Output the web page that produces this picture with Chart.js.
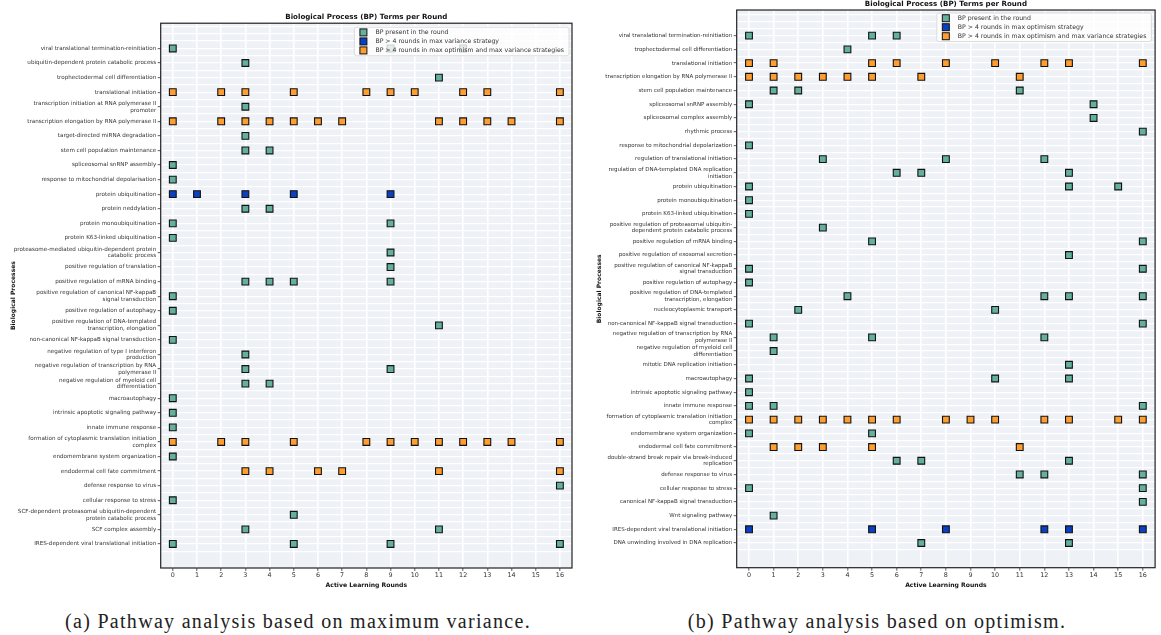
<!DOCTYPE html>
<html>
<head>
<meta charset="utf-8">
<script src="https://cdn.jsdelivr.net/npm/chart.js@4.4.0/dist/chart.umd.min.js"></script>
<style>
  html, body { margin: 0; padding: 0; background: #fff; width: 1161px; height: 635px; overflow: hidden; position: relative; }
  canvas { position: absolute; top: 0; }
  #chartA { left: 0; }
  #chartB { left: 580px; }
  .cap { position: absolute; top: 610px; font-family: 'Liberation Serif', serif; font-size: 20px; letter-spacing: 1.3px; color: #222; white-space: nowrap; transform: translateX(-50%); }
</style>
</head>
<body>
<canvas id="chartA" width="580" height="592"></canvas>
<canvas id="chartB" width="581" height="592"></canvas>
<div class="cap" style="left:298px">(a) Pathway analysis based on maximum variance.</div>
<div class="cap" style="left:877px">(b) Pathway analysis based on optimism.</div>
<script>
// ---- data ----
const rounds = [0, 1, 2, 3, 4, 5, 6, 7, 8, 9, 10, 11, 12, 13, 14, 15, 16];

// (a) max variance
const catsA = [
  'viral translational termination-reinitiation',
  'ubiquitin-dependent protein catabolic process',
  'trophectodermal cell differentiation',
  'translational initiation',
  'transcription initiation at RNA polymerase II\npromoter',
  'transcription elongation by RNA polymerase II',
  'target-directed miRNA degradation',
  'stem cell population maintenance',
  'spliceosomal snRNP assembly',
  'response to mitochondrial depolarisation',
  'protein ubiquitination',
  'protein neddylation',
  'protein monoubiquitination',
  'protein K63-linked ubiquitination',
  'proteasome-mediated ubiquitin-dependent protein\ncatabolic process',
  'positive regulation of translation',
  'positive regulation of mRNA binding',
  'positive regulation of canonical NF-kappaB\nsignal transduction',
  'positive regulation of autophagy',
  'positive regulation of DNA-templated\ntranscription, elongation',
  'non-canonical NF-kappaB signal transduction',
  'negative regulation of type I interferon\nproduction',
  'negative regulation of transcription by RNA\npolymerase II',
  'negative regulation of myeloid cell\ndifferentiation',
  'macroautophagy',
  'intrinsic apoptotic signaling pathway',
  'innate immune response',
  'formation of cytoplasmic translation initiation\ncomplex',
  'endomembrane system organization',
  'endodermal cell fate commitment',
  'defense response to virus',
  'cellular response to stress',
  'SCF-dependent proteasomal ubiquitin-dependent\nprotein catabolic process',
  'SCF complex assembly',
  'IRES-dependent viral translational initiation'
];
const roundsA = [
  [0, 9, 12], [3], [11], [0, 2, 3, 5, 8, 9, 10, 12, 13, 16], [3],
  [0, 2, 3, 4, 5, 6, 7, 11, 12, 13, 14, 16], [3], [3, 4], [0], [0],
  [0, 1, 3, 5, 9], [3, 4], [0, 9], [0], [9],
  [9], [3, 4, 5, 9], [0], [0], [11],
  [0], [3], [3, 9], [3, 4], [0],
  [0], [0], [0, 2, 3, 5, 8, 9, 10, 11, 12, 13, 14, 16], [0], [3, 4, 6, 7, 11, 16],
  [16], [0], [5], [3, 11], [0, 5, 9, 16]
];
// 0 = present, 1 = >4 rounds in this strategy, 2 = >4 rounds in both
const kindA = [0,0,0,2,0, 2,0,0,0,0, 1,0,0,0,0, 0,0,0,0,0, 0,0,0,0,0, 0,0,2,0,2, 0,0,0,0,0];
const legendA = ['BP present in the round', 'BP > 4 rounds in max variance strategy', 'BP > 4 rounds in max optimism and max variance strategies'];

// (b) max optimism
const catsB = [
  'viral translational termination-reinitiation',
  'trophectodermal cell differentiation',
  'translational initiation',
  'transcription elongation by RNA polymerase II',
  'stem cell population maintenance',
  'spliceosomal snRNP assembly',
  'spliceosomal complex assembly',
  'rhythmic process',
  'response to mitochondrial depolarization',
  'regulation of translational initiation',
  'regulation of DNA-templated DNA replication\ninitiation',
  'protein ubiquitination',
  'protein monoubiquitination',
  'protein K63-linked ubiquitination',
  'positive regulation of proteasomal ubiquitin-\ndependent protein catabolic process',
  'positive regulation of mRNA binding',
  'positive regulation of exosomal secretion',
  'positive regulation of canonical NF-kappaB\nsignal transduction',
  'positive regulation of autophagy',
  'positive regulation of DNA-templated\ntranscription, elongation',
  'nucleocytoplasmic transport',
  'non-canonical NF-kappaB signal transduction',
  'negative regulation of transcription by RNA\npolymerase II',
  'negative regulation of myeloid cell\ndifferentiation',
  'mitotic DNA replication initiation',
  'macroautophagy',
  'intrinsic apoptotic signaling pathway',
  'innate immune response',
  'formation of cytoplasmic translation initiation\ncomplex',
  'endomembrane system organization',
  'endodermal cell fate commitment',
  'double-strand break repair via break-induced\nreplication',
  'defense response to virus',
  'cellular response to stress',
  'canonical NF-kappaB signal transduction',
  'Wnt signaling pathway',
  'IRES-dependent viral translational initiation',
  'DNA unwinding involved in DNA replication'
];
const roundsB = [
  [0, 5, 6], [4], [0, 1, 5, 6, 8, 10, 12, 13, 16], [0, 1, 2, 3, 4, 5, 7, 11], [1, 2, 11],
  [0, 14], [14], [16], [0], [3, 8, 12],
  [6, 7, 13], [0, 13, 15], [0], [0], [3],
  [5, 16], [13], [0, 16], [0], [4, 12, 13, 16],
  [2, 10], [0, 16], [1, 5, 12], [1], [13],
  [0, 10, 13], [0], [0, 1, 16], [0, 1, 2, 3, 4, 5, 6, 8, 9, 10, 12, 13, 15, 16], [0, 5],
  [1, 2, 3, 5, 11], [6, 7, 13], [11, 12, 16], [0, 16], [16],
  [1], [0, 5, 8, 12, 13, 16], [7, 13]
];
const kindB = [0,0,2,2,0, 0,0,0,0,0, 0,0,0,0,0, 0,0,0,0,0, 0,0,0,0,0, 0,0,0,2,0, 2,0,0,0,0, 0,1,0];
const legendB = ['BP present in the round', 'BP > 4 rounds in max optimism strategy', 'BP > 4 rounds in max optimism and max variance strategies'];

const kindColors = ['#63b19d', '#0b40c4', '#ff9e30'];

Chart.defaults.font.family = "'DejaVu Sans', sans-serif";

// matplotlib-ish frame: panel background, four spines, legend box inside the axes
const frame = {
  id: 'frame',
  beforeDraw(chart) {
    const a = chart.chartArea, ctx = chart.ctx;
    ctx.save();
    ctx.fillStyle = '#eef1f6';
    ctx.fillRect(a.left, a.top, a.width, a.height);
    ctx.restore();
  },
  afterDatasetsDraw(chart, args, opts) {
    const a = chart.chartArea, ctx = chart.ctx;
    ctx.save();
    ctx.strokeStyle = '#222';
    ctx.lineWidth = 1.2;
    ctx.strokeRect(a.left, a.top, a.width, a.height);

    // legend
    ctx.font = "6.2px 'DejaVu Sans'";
    const tw = Math.max(...opts.labels.map(t => ctx.measureText(t).width));
    const w = 21 + tw + 5, h = 28.5;
    const x = a.right - opts.dx - w, y = a.top + opts.dy;
    ctx.beginPath();
    ctx.roundRect(x, y, w, h, 2);
    ctx.fillStyle = 'rgba(255,255,255,0.8)';
    ctx.fill();
    ctx.strokeStyle = '#d4d4d4';
    ctx.lineWidth = 0.8;
    ctx.stroke();
    opts.labels.forEach((t, i) => {
      const cy = y + 5.2 + i * 9;
      ctx.fillStyle = kindColors[i];
      ctx.fillRect(x + 5.5, cy - 3.5, 7, 7);
      ctx.strokeStyle = '#111';
      ctx.lineWidth = 1;
      ctx.strokeRect(x + 5.5, cy - 3.5, 7, 7);
      ctx.fillStyle = '#333';
      ctx.textBaseline = 'middle';
      ctx.fillText(t, x + 21, cy + 0.3);
    });
    ctx.restore();
  }
};

function makeSets(roundsList, kinds, labels) {
  return [0, 1, 2].map(k => {
    const pts = [];
    roundsList.forEach((rs, i) => {
      if (kinds[i] === k) rs.forEach(r => pts.push({ x: r, y: i }));
    });
    return {
      label: labels[k],
      data: pts,
      backgroundColor: kindColors[k],
      borderColor: '#111',
      borderWidth: 1.1,
      pointStyle: 'rect',
      pointRadius: 4.8
    };
  });
}

function isRow(v, n) { return Number.isInteger(v) && v >= 0 && v < n; }

function buildChart(id, cats, roundsList, kinds, labels, cfg) {
  const n = cats.length;
  const yTicks = [];
  for (let v = -1.5; v <= n - 0.5; v += 0.5) yTicks.push(v);
  return new Chart(document.getElementById(id), {
    type: 'scatter',
    data: { datasets: makeSets(roundsList, kinds, labels) },
    options: {
      responsive: false,
      animation: false,
      layout: { padding: { left: cfg.padLeft, right: cfg.padRight, top: 0, bottom: 0 } },
      plugins: {
        legend: { display: false },
        tooltip: { enabled: false },
        title: {
          display: true, fullSize: false, text: 'Biological Process (BP) Terms per Round', color: '#111',
          font: { size: 7.1, weight: 'bold' }, padding: { top: cfg.titleTop, bottom: cfg.titleBottom }
        },
        frame: { labels, dx: cfg.legDx, dy: cfg.legDy }
      },
      scales: {
        x: {
          type: 'linear', min: -0.5, max: 16.5,
          afterBuildTicks: s => { s.ticks = rounds.map(v => ({ value: v })); },
          afterFit: s => { s.height = cfg.xHeight; },
          ticks: { color: '#333', font: { size: 6.4 }, padding: 1, maxRotation: 0, autoSkip: false, callback: v => String(v) },
          grid: { color: '#fff', lineWidth: 1.6, tickLength: 3, tickColor: '#333', tickWidth: 0.8 },
          border: { display: false },
          title: { display: true, text: 'Active Learning Rounds', color: '#111', font: { size: 6.1, weight: 'bold' }, padding: { top: 0, bottom: 2.6 } }
        },
        y: {
          type: 'linear', reverse: true, min: cfg.yMin, max: n - 1 + cfg.yPadBottom,
          afterBuildTicks: s => { s.ticks = yTicks.map(v => ({ value: v })); },
          afterFit: s => { s.width = cfg.yWidth; },
          ticks: {
            color: '#333', font: { size: cfg.labelSize }, padding: 1.5, autoSkip: false,
            callback: v => isRow(v, n) ? cats[v].split('\n') : ''
          },
          grid: {
            color: '#fff', lineWidth: 1.3, tickLength: 3, tickWidth: 0.8,
            tickColor: c => isRow(c.tick.value, n) ? '#333' : 'rgba(0,0,0,0)'
          },
          border: { display: false },
          title: { display: true, text: 'Biological Processes', color: '#111', font: { size: 6, weight: 'bold' }, padding: { top: 4.3, bottom: 0 } }
        }
      }
    },
    plugins: [frame]
  });
}

buildChart('chartA', catsA, roundsA, kindA, legendA, {
  padLeft: 6, padRight: 8, titleTop: 12.5, titleBottom: 2.2, xHeight: 24,
  yWidth: 154.7, yMin: -1.73, yPadBottom: 1.65, labelSize: 5.6, legDx: 3, legDy: 4
});
buildChart('chartB', catsB, roundsB, kindB, legendB, {
  padLeft: 12, padRight: 3.3, titleTop: 0, titleBottom: 1.5, xHeight: 24.3,
  yWidth: 144.7, yMin: -1.87, yPadBottom: 1.8, labelSize: 5.5, legDx: 3.7, legDy: 3
});
</script>
</body>
</html>
